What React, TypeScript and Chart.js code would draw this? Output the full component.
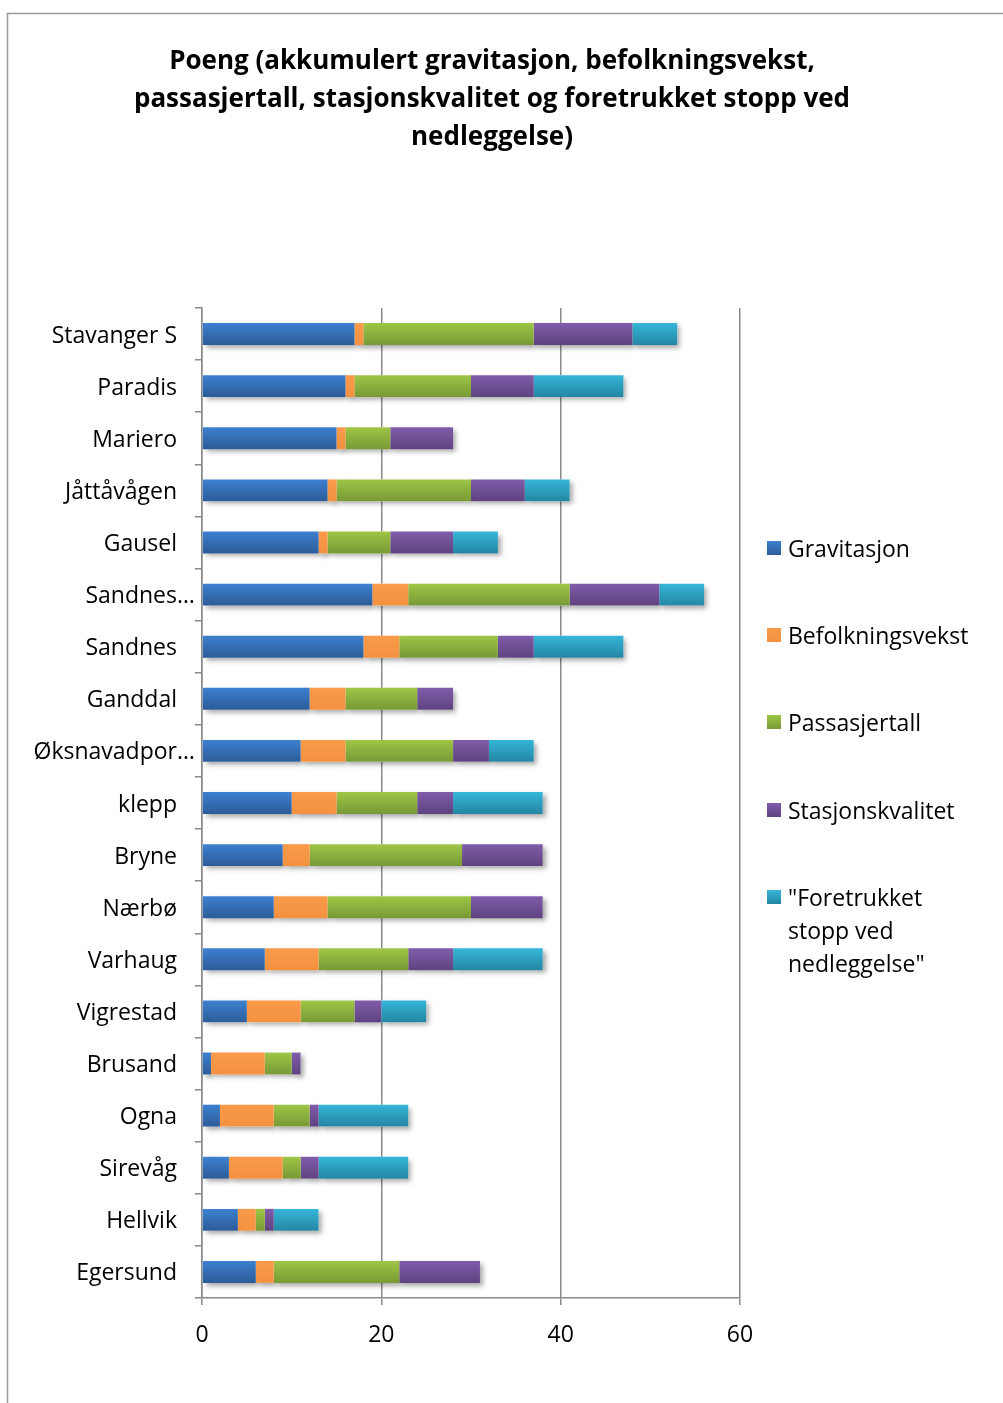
import React, { useEffect, useRef } from "react";
import { Chart, registerables } from "chart.js";

Chart.register(...registerables);

// Stations along the line, top to bottom
const stations = [
  "Stavanger S",
  "Paradis",
  "Mariero",
  "Jåttåvågen",
  "Gausel",
  "Sandnes…",
  "Sandnes",
  "Ganddal",
  "Øksnavadpor…",
  "klepp",
  "Bryne",
  "Nærbø",
  "Varhaug",
  "Vigrestad",
  "Brusand",
  "Ogna",
  "Sirevåg",
  "Hellvik",
  "Egersund",
];

// Points per criterion
const gravitasjon = [17, 16, 15, 14, 13, 19, 18, 12, 11, 10, 9, 8, 7, 5, 1, 2, 3, 4, 6];
const befolkningsvekst = [1, 1, 1, 1, 1, 4, 4, 4, 5, 5, 3, 6, 6, 6, 6, 6, 6, 2, 2];
const passasjertall = [19, 13, 5, 15, 7, 18, 11, 8, 12, 9, 17, 16, 10, 6, 3, 4, 2, 1, 14];
const stasjonskvalitet = [11, 7, 7, 6, 7, 10, 4, 4, 4, 4, 9, 8, 5, 3, 1, 1, 2, 1, 9];
const foretrukketStopp = [5, 10, 0, 5, 5, 5, 10, 0, 5, 10, 0, 0, 10, 5, 0, 10, 10, 5, 0];

const seriesNames = [
  "Gravitasjon",
  "Befolkningsvekst",
  "Passasjertall",
  "Stasjonskvalitet",
  '"Foretrukket stopp ved nedleggelse"',
];

// Legend text as wrapped lines
const legendLines = [
  ["Gravitasjon"],
  ["Befolkningsvekst"],
  ["Passasjertall"],
  ["Stasjonskvalitet"],
  ['"Foretrukket', "stopp ved", 'nedleggelse"'],
];

const titleLines = [
  "Poeng (akkumulert gravitasjon, befolkningsvekst,",
  "passasjertall, stasjonskvalitet og foretrukket stopp ved",
  "nedleggelse)",
];

const xTicks = [0, 20, 40, 60];

// top / bottom colours of each series' gradient
const seriesColors: [string, string][] = [
  ["#3D80D0", "#2C5C98"],
  ["#F99A4A", "#F3913F"],
  ["#9EC646", "#789935"],
  ["#805CAA", "#5E4380"],
  ["#36B6D9", "#2386A2"],
];

const FONT = "'Open Sans', Lato, sans-serif";
const BAR_FRACTION = 0.42;

const makeFill = (top: string, bottom: string) => (c: any) => {
  const chart = c.chart;
  const ys = chart.scales && chart.scales.y;
  if (!ys || c.type !== "data" || !ys.height) return top;
  const center = ys.getPixelForValue(c.dataIndex);
  const half = ((ys.height / stations.length) * BAR_FRACTION) / 2;
  const g = chart.ctx.createLinearGradient(0, center - half, 0, center + half);
  g.addColorStop(0, top);
  g.addColorStop(1, bottom);
  return g;
};

const shadowPlugin = {
  id: "barShadow",
  beforeDatasetsDraw(chart: any) {
    const ctx = chart.ctx;
    ctx.save();
    ctx.shadowColor = "rgba(0,0,0,0.35)";
    ctx.shadowBlur = 5;
    ctx.shadowOffsetX = 3;
    ctx.shadowOffsetY = 3;
    ctx.fillStyle = "#ffffff";
    chart.data.datasets.forEach((_: any, i: number) => {
      const meta = chart.getDatasetMeta(i);
      meta.data.forEach((el: any) => {
        const { x, y, base, height } = el.getProps(["x", "y", "base", "height"], true);
        const w = x - base;
        if (w <= 0) return;
        ctx.fillRect(base, y - height / 2, w, height);
      });
    });
    ctx.restore();
  },
};

const decorPlugin = {
  id: "decor",
  afterDraw(chart: any) {
    const ctx = chart.ctx;
    ctx.save();

    // outer frame
    ctx.strokeStyle = "#9a9a9a";
    ctx.lineWidth = 1.5;
    ctx.beginPath();
    ctx.moveTo(7.5, 1403);
    ctx.lineTo(7.5, 13.5);
    ctx.lineTo(1003, 13.5);
    ctx.stroke();

    // title
    ctx.fillStyle = "#000";
    ctx.font = `bold 26px ${FONT}`;
    ctx.textAlign = "center";
    ctx.textBaseline = "middle";
    titleLines.forEach((t, i) => ctx.fillText(t, 492, 62 + i * 38));

    // category labels
    const ys = chart.scales.y;
    ctx.font = `23px ${FONT}`;
    ctx.textAlign = "right";
    stations.forEach((s, i) => {
      const y = ys.getPixelForValue(i) + 2;
      if (s.endsWith("…")) {
        const base = s.slice(0, -1);
        ctx.fillText(base, 177, y);
        ctx.textAlign = "left";
        ctx.fillText("…", 177, y);
        ctx.textAlign = "right";
      } else {
        ctx.fillText(s, 177, y);
      }
    });

    // legend
    const legendY = [548, 635, 722, 810, 897];
    ctx.textAlign = "left";
    legendLines.forEach((lines, i) => {
      const y = legendY[i];
      const [top, bottom] = seriesColors[i];
      const g = ctx.createLinearGradient(0, y - 7, 0, y + 7);
      g.addColorStop(0, top);
      g.addColorStop(1, bottom);
      ctx.fillStyle = g;
      ctx.fillRect(767, y - 7, 14, 14);
      ctx.fillStyle = "#000";
      lines.forEach((l, j) => ctx.fillText(l, 788, y + 2 + j * 33));
    });

    ctx.restore();
  },
};

export default function App() {
  const ref = useRef<HTMLCanvasElement | null>(null);

  useEffect(() => {
    if (!ref.current) return;
    const values = [gravitasjon, befolkningsvekst, passasjertall, stasjonskvalitet, foretrukketStopp];
    const chart = new Chart(ref.current, {
      type: "bar",
      data: {
        labels: stations,
        datasets: values.map((v, i) => ({
          label: seriesNames[i],
          data: v,
          backgroundColor: makeFill(seriesColors[i][0], seriesColors[i][1]),
          borderWidth: 0,
          barPercentage: BAR_FRACTION,
          categoryPercentage: 1,
        })),
      },
      options: {
        indexAxis: "y",
        responsive: false,
        animation: false,
        events: [],
        layout: { padding: { left: 0, right: 263, top: 308, bottom: 0 } },
        plugins: {
          legend: { display: false },
          title: { display: false },
          tooltip: { enabled: false },
        },
        scales: {
          x: {
            stacked: true,
            min: 0,
            max: 60,
            afterBuildTicks: (scale: any) => {
              scale.ticks = xTicks.map((v) => ({ value: v }));
            },
            afterFit: (scale: any) => {
              scale.height = 105;
            },
            ticks: {
              color: "#000",
              font: { family: FONT, size: 23 },
              padding: 17,
              maxRotation: 0,
            },
            grid: { color: "#8a8a8a", lineWidth: 1.5, tickLength: 7 },
            border: { display: true, color: "#8a8a8a", width: 1.5 },
          },
          y: {
            stacked: true,
            afterFit: (scale: any) => {
              scale.width = 202;
            },
            ticks: { color: "rgba(0,0,0,0)", font: { family: FONT, size: 22 } },
            grid: {
              display: true,
              drawOnChartArea: false,
              offset: true,
              tickLength: 7,
              color: "#8a8a8a",
              lineWidth: 1.5,
            },
            border: { display: true, color: "#8a8a8a", width: 1.5 },
          },
        },
      },
      plugins: [shadowPlugin, decorPlugin],
    });
    return () => chart.destroy();
  }, []);

  return (
    <div style={{ position: "fixed", left: 0, top: 0, width: 1003, height: 1403, overflow: "hidden", background: "#fff" }}>
      <canvas ref={ref} width={1003} height={1403} style={{ display: "block" }} />
    </div>
  );
}
